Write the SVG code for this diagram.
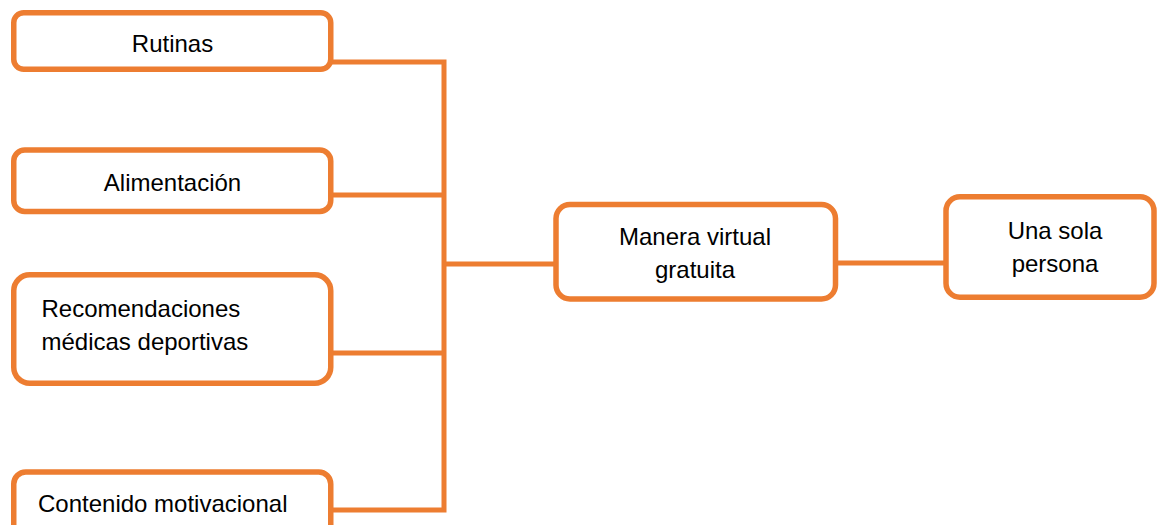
<svg xmlns="http://www.w3.org/2000/svg" width="1159" height="525" viewBox="0 0 1159 525">
  <style>
    .box { fill: #FFFFFF; stroke: #ED7D31; stroke-width: 5.5; }
    .link { fill: none; stroke: #ED7D31; stroke-width: 5; stroke-linecap: square; }
    .lbl { font-family: "Liberation Sans", Arial, sans-serif; font-size: 24px; fill: #000000; }
    .mid { text-anchor: middle; }
  </style>
  <rect width="1159" height="525" fill="#FFFFFF"/>

  <g id="connectors">
    <path class="link" d="M333 62 H444 M333 195 H444 M333 353 H444 M333 510 H444 M444 62 V510 M444 264 H553 M838 263 H943"/>
  </g>

  <g id="node-rutinas">
    <rect class="box" x="13.75" y="12.75" width="317" height="56.5" rx="10"/>
    <text class="lbl mid" x="172.5" y="52">Rutinas</text>
  </g>

  <g id="node-alimentacion">
    <rect class="box" x="13.75" y="150" width="317" height="61.5" rx="11"/>
    <text class="lbl mid" x="172.5" y="191">Alimentación</text>
  </g>

  <g id="node-recomendaciones">
    <rect class="box" x="13.75" y="274.75" width="317" height="108.5" rx="16"/>
    <text class="lbl" x="41.5" y="317">Recomendaciones</text>
    <text class="lbl" x="41.5" y="350">médicas deportivas</text>
  </g>

  <g id="node-contenido">
    <rect class="box" x="13.75" y="472" width="317" height="80" rx="12"/>
    <text class="lbl" x="38" y="511.5">Contenido motivacional</text>
  </g>

  <g id="node-manera">
    <rect class="box" x="556" y="204.5" width="279.5" height="94.5" rx="14"/>
    <text class="lbl mid" x="695" y="245">Manera virtual</text>
    <text class="lbl mid" x="695" y="278">gratuita</text>
  </g>

  <g id="node-persona">
    <rect class="box" x="946" y="196.75" width="208" height="100.5" rx="14"/>
    <text class="lbl mid" x="1055" y="239">Una sola</text>
    <text class="lbl mid" x="1055" y="272">persona</text>
  </g>
</svg>
